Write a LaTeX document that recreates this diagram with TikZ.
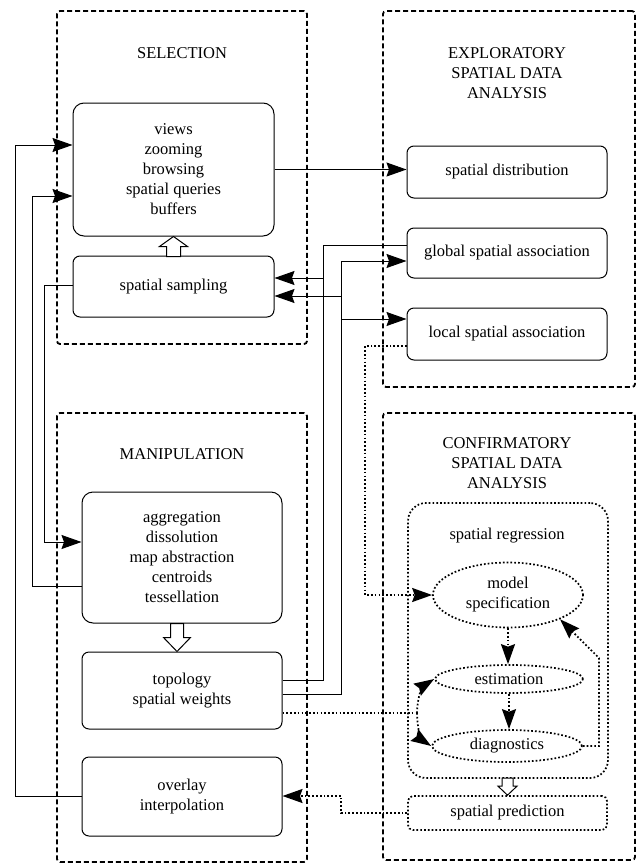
\documentclass[tikz,border=0pt]{standalone}
\usepackage{fontspec}
\setmainfont{Liberation Serif}
\usetikzlibrary{arrows.meta,shapes.geometric,calc}
\begin{document}
\begin{tikzpicture}[x=1pt,y=-1pt,
  font=\fontsize{16.5}{20}\selectfont,
  group/.style={draw,line width=1.8pt,dash pattern=on 5pt off 3pt,rounded corners=3pt,inner sep=0pt},
  box/.style={draw,line width=1pt,rounded corners=7pt,inner sep=0pt,align=center,minimum width=200pt},
  dbox/.style={draw,line width=1.7pt,dash pattern=on 1.7pt off 2.1pt,inner sep=0pt,align=center},
  dell/.style={dbox,ellipse},
  tip/.tip={Stealth[length=20pt,width=14pt,inset=2.5pt]},
  conn/.style={line width=1pt},
  arr/.style={conn,-tip},
  dotc/.style={line width=1.7pt,dash pattern=on 1.7pt off 2.1pt},
  dotarr/.style={dotc,-tip},
  hollow/.style={draw,line width=1pt,fill=white,line join=miter},
  title/.style={align=center}
]
\useasboundingbox (0,0) rectangle (637,865);

% groups
\node[group,minimum width=250pt,minimum height=333pt] (gsel) at (182,177.5) {};
\node[group,minimum width=252pt,minimum height=376pt] (gesda) at (509,199) {};
\node[group,minimum width=250pt,minimum height=449pt] (gman) at (182,637.5) {};
\node[group,minimum width=252pt,minimum height=447pt] (gcsda) at (509,636.5) {};

% titles
\node (tsel) at (182,53) {SELECTION};
\node[title] (tesda) at (507,73) {EXPLORATORY\\SPATIAL DATA\\ANALYSIS};
\node (tman) at (182,454) {MANIPULATION};
\node[title] (tcsda) at (507,463) {CONFIRMATORY\\SPATIAL DATA\\ANALYSIS};

% selection
\node[box,minimum width=201pt,minimum height=133pt,rounded corners=11pt] (views) at (173.5,169.5)
  {views\\zooming\\browsing\\spatial queries\\buffers};
\node[box,minimum width=201pt,minimum height=61pt] (samp) at (173.5,286.5) {spatial sampling};

% ESDA
\node[box,minimum height=52pt] (dist) at (507,172) {spatial distribution};
\node[box,minimum height=50pt] (glob) at (507,253) {global spatial association};
\node[box,minimum height=52pt] (loc) at (507,334) {local spatial association};

% manipulation
\node[box,minimum height=131pt,rounded corners=11pt] (agg) at (182,557.5)
  {aggregation\\dissolution\\map abstraction\\centroids\\tessellation};
\node[box,minimum height=77pt] (topo) at (182,690.5) {topology\\spatial weights};
\node[box,minimum height=79pt] (overlay) at (182,796.5) {overlay\\interpolation};

% CSDA
\node[dbox,rounded corners=18pt,minimum width=200pt,minimum height=275pt] (reg) at (508,640.5) {};
\node (treg) at (507,536) {spatial regression};
\node[dell,minimum width=150pt,minimum height=65pt] (model) at (508,595) {model\\specification};
\node[dell,minimum width=148pt,minimum height=28pt] (est) at (509,679) {estimation};
\node[dell,minimum width=150pt,minimum height=32pt] (diag) at (507,746) {diagnostics};
\node[dbox,rounded corners=5pt,minimum width=199pt,minimum height=34pt] (pred) at (507.5,813) {spatial prediction};

% bend coordinates
\coordinate (c1) at (15,145);
\coordinate (c2a) at (32,586);
\coordinate (c2) at (32,196);
\coordinate (c3a) at (44,285);
\coordinate (c3) at (44,542);
\coordinate (c4a) at (323,245);
\coordinate (c4) at (323,680);
\coordinate (c4s) at (323,278);
\coordinate (c5) at (341,694);
\coordinate (c5g) at (341,261);
\coordinate (c5s) at (341,296);
\coordinate (c5l) at (341,319);
\coordinate (c6a) at (365,346);
\coordinate (c6) at (365,595);
\coordinate (split) at (417,713);
\coordinate (c7) at (599,746);
\coordinate (c7b) at (599,658);
\coordinate (c8b) at (341,796);

% solid connectors
\draw[arr] (views.east) -- (views.east -| dist.west);
\draw[arr] (overlay.west) -| (c1) -- (views.west |- c1);
\draw[arr] (agg.west |- c2a) -| (c2) -- (views.west |- c2);
\draw[arr] (samp.west |- c3a) -| (c3) -- (agg.west |- c3);
\draw[conn] (glob.west |- c4a) -| (c4) -- (topo.east |- c4);
\draw[arr] (c4s) -- (samp.east |- c4s);
\draw[arr] (topo.east |- c5) -| (c5g) -- (glob.west |- c5g);
\draw[arr] (c5s) -- (samp.east |- c5s);
\draw[arr] (c5l) -- (loc.west |- c5l);

% dotted connectors
\draw[dotarr] (loc.west |- c6a) -| (c6) -- (model.west |- c6);
\draw[dotc] (topo.east |- split) -- (split);
\draw[dotarr] (split) .. controls (417,698) and (423,686) .. (est.west);
\draw[dotarr] (split) .. controls (417,728) and (422,740) .. (diag.west);
\draw[dotarr] (model.south) -- (model.south |- est.north);
\draw[dotarr] (est.south) -- (est.south |- diag.north);
\draw[dotarr] (diag.east) -- (c7) -- (c7b) -- (model.-25);
\draw[dotarr] (pred.west) -| (c8b) -- (overlay.east |- c8b);

% hollow arrows
\draw[hollow] (views.south) -- ++(14,10) -- ++(-7,0) -- ++(0,10) -- ++(-14,0) -- ++(0,-10) -- ++(-7,0) -- cycle;
\draw[hollow] ($(topo.north)+(-5,0)$) -- ++(13.5,-14) -- ++(-7,0) -- ++(0,-14) -- ++(-13,0) -- ++(0,14) -- ++(-7,0) -- cycle;
\draw[hollow] (pred.north) -- ++(9.5,-9) -- ++(-4,0) -- ++(0,-8) -- ++(-11,0) -- ++(0,8) -- ++(-4,0) -- cycle;
\end{tikzpicture}
\end{document}
